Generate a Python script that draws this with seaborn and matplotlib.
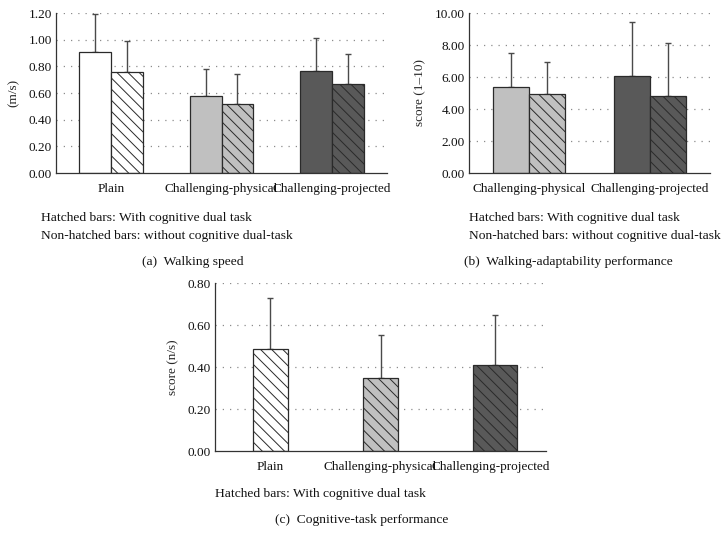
import numpy as np
import pandas as pd
import matplotlib
matplotlib.use("Agg")
import matplotlib.pyplot as plt
import seaborn as sns

# ---------------- data ----------------
cats_a = ["Plain", "Challenging-physical", "Challenging-projected"]
conds = ["without", "with"]
speed_without = [0.905, 0.58, 0.765]
speed_with = [0.755, 0.52, 0.665]
speed_without_top = [1.19, 0.78, 1.01]
speed_with_top = [0.99, 0.74, 0.89]

cats_b = ["Challenging-physical", "Challenging-projected"]
adapt_without = [5.38, 6.05]
adapt_with = [4.92, 4.82]
adapt_without_top = [7.48, 9.46]
adapt_with_top = [6.92, 8.10]

cats_c = ["Plain", "Challenging-physical", "Challenging-projected"]
cog_with = [0.485, 0.35, 0.41]
cog_with_top = [0.73, 0.553, 0.648]

yticks_a = [0.0, 0.2, 0.4, 0.6, 0.8, 1.0, 1.2]
yticks_b = [0.0, 2.0, 4.0, 6.0, 8.0, 10.0]
yticks_c = [0.0, 0.2, 0.4, 0.6, 0.8]

colors = {"Plain": "#ffffff", "Challenging-physical": "#c0c0c0",
          "Challenging-projected": "#595959"}

# ---------------- style ----------------
sns.set_theme(style="white")
plt.rcParams["font.family"] = ["Liberation Serif", "DejaVu Serif"]
plt.rcParams["hatch.linewidth"] = 0.7
FS = 9.5
FS_TXT = 9.7
EDGE = "#2a2a2a"
ERR = "#4a4a4a"

W, H = 725, 547
fig = plt.figure(figsize=(W / 100, H / 100), dpi=100)


def add_ax(l, t, r, b):
    return fig.add_axes([l / W, 1 - b / H, (r - l) / W, (b - t) / H])


def style_ax(ax, yticks, ylabel):
    ax.set_ylim(yticks[0], yticks[-1])
    ax.set_yticks(yticks)
    ax.set_yticklabels([f"{v:.2f}" for v in yticks], fontsize=FS)
    for v in yticks[1:]:
        ax.axhline(v, color="#8c8c8c", lw=0.9, ls=(0, (1, 4.8)), zorder=0)
    for s in ["top", "right"]:
        ax.spines[s].set_visible(False)
    for s in ["left", "bottom"]:
        ax.spines[s].set_color("#333333")
        ax.spines[s].set_linewidth(0.9)
    ax.tick_params(axis="y", length=0, pad=3, labelsize=FS, colors="#111111")
    ax.tick_params(axis="x", length=0, pad=7, labelsize=FS, colors="#111111")
    ax.set_xlabel("")
    ax.set_ylabel(ylabel, fontsize=FS, labelpad=6)
    ax.grid(False)


def grouped(ax, cats, without, with_, wtop, htop, width):
    df = pd.DataFrame({
        "cat": cats * 2,
        "cond": [conds[0]] * len(cats) + [conds[1]] * len(cats),
        "val": list(without) + list(with_),
    })
    sns.barplot(data=df, x="cat", y="val", hue="cond", order=cats,
                hue_order=conds, width=width, dodge=True, legend=False,
                errorbar=None, ax=ax, zorder=2)
    tops = [wtop, htop]
    bar_conts = list(ax.containers)
    for hi, cont in enumerate(bar_conts):
        xs, ys, err = [], [], []
        for ci, p in enumerate(cont.patches):
            p.set_facecolor(colors[cats[ci]])
            p.set_edgecolor(EDGE)
            p.set_linewidth(0.9)
            if hi == 1:
                p.set_hatch("\\\\\\")
            xs.append(p.get_x() + p.get_width() / 2)
            ys.append(p.get_height())
            err.append(tops[hi][ci] - p.get_height())
        ax.errorbar(xs, ys, yerr=[np.zeros(len(xs)), err], fmt="none",
                    ecolor=ERR, elinewidth=1.0, capsize=2.5,
                    capthick=1.0, zorder=1)
    ax.set_xlim(-0.5, len(cats) - 0.5)


# panel a
ax_a = add_ax(56, 13, 387, 173)
grouped(ax_a, cats_a, speed_without, speed_with, speed_without_top,
        speed_with_top, 0.58)
style_ax(ax_a, yticks_a, "(m/s)")

# panel b
ax_b = add_ax(469, 13, 710, 173)
grouped(ax_b, cats_b, adapt_without, adapt_with, adapt_without_top,
        adapt_with_top, 0.6)
style_ax(ax_b, yticks_b, "score (1–10)")

# panel c
ax_c = add_ax(215, 283, 546, 451)
dfc = pd.DataFrame({"cat": cats_c, "val": cog_with})
sns.barplot(data=dfc, x="cat", y="val", order=cats_c, width=0.32,
            errorbar=None, ax=ax_c, zorder=2)
xs, ys, err = [], [], []
for ci, p in enumerate(list(ax_c.patches)):
    p.set_facecolor(colors[cats_c[ci]])
    p.set_edgecolor(EDGE)
    p.set_linewidth(0.9)
    p.set_hatch("\\\\\\")
    if ci == 2:
        p.set_width(0.40)  # the last bar is drawn a little wider
    xs.append(p.get_x() + p.get_width() / 2)
    ys.append(p.get_height())
    err.append(cog_with_top[ci] - p.get_height())
ax_c.errorbar(xs, ys, yerr=[np.zeros(len(xs)), err], fmt="none",
              ecolor=ERR, elinewidth=1.0, capsize=2.5, capthick=1.0,
              zorder=1)
ax_c.set_xlim(-0.5, 2.5)
style_ax(ax_c, yticks_c, "score (n/s)")


def ftxt(x, y, s, ha="left"):
    fig.text(x / W, 1 - y / H, s, ha=ha, va="center", fontsize=FS_TXT,
             color="#111111")


ftxt(41, 218, "Hatched bars: With cognitive dual task")
ftxt(41, 236, "Non-hatched bars: without cognitive dual-task")
ftxt(193, 262, "(a)  Walking speed", ha="center")
ftxt(469, 218, "Hatched bars: With cognitive dual task")
ftxt(469, 236, "Non-hatched bars: without cognitive dual-task")
ftxt(568, 262, "(b)  Walking-adaptability performance", ha="center")
ftxt(215, 494, "Hatched bars: With cognitive dual task")
ftxt(362, 520, "(c)  Cognitive-task performance", ha="center")

fig.savefig("out.png", dpi=100, facecolor="white")
